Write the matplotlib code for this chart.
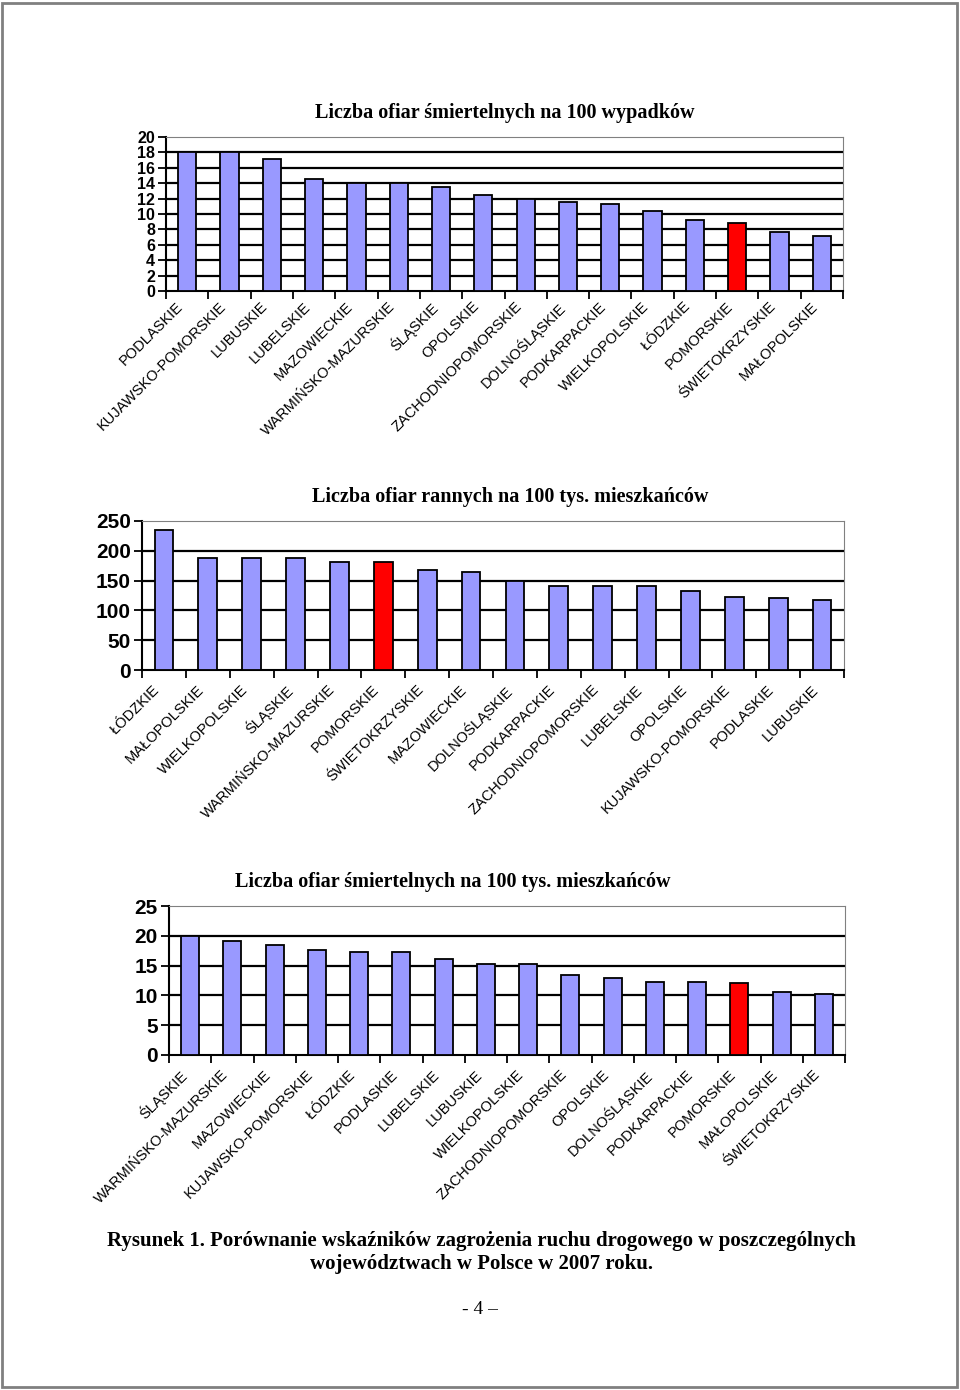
import matplotlib
matplotlib.use("Agg")
from matplotlib import pyplot as plt
from matplotlib.patches import Rectangle

# dane (2007)
woj_wypadki = ["PODLASKIE", "KUJAWSKO-POMORSKIE", "LUBUSKIE", "LUBELSKIE", "MAZOWIECKIE",
               "WARMIŃSKO-MAZURSKIE", "ŚLĄSKIE", "OPOLSKIE", "ZACHODNIOPOMORSKIE", "DOLNOŚLĄSKIE",
               "PODKARPACKIE", "WIELKOPOLSKIE", "ŁÓDZKIE", "POMORSKIE", "ŚWIETOKRZYSKIE", "MAŁOPOLSKIE"]
smiert_100_wyp = [18.0, 18.0, 17.2, 14.6, 14.0, 14.0, 13.5, 12.5, 11.9, 11.6, 11.3, 10.4, 9.2, 8.8, 7.6, 7.1]

woj_ranni = ["ŁÓDZKIE", "MAŁOPOLSKIE", "WIELKOPOLSKIE", "ŚLĄSKIE", "WARMIŃSKO-MAZURSKIE", "POMORSKIE",
             "ŚWIETOKRZYSKIE", "MAZOWIECKIE", "DOLNOŚLĄSKIE", "PODKARPACKIE", "ZACHODNIOPOMORSKIE",
             "LUBELSKIE", "OPOLSKIE", "KUJAWSKO-POMORSKIE", "PODLASKIE", "LUBUSKIE"]
ranni_100_tys = [235, 188, 188, 188, 182, 182, 167, 164, 150, 141, 141, 141, 132, 123, 120, 117]

woj_smiert = ["ŚLĄSKIE", "WARMIŃSKO-MAZURSKIE", "MAZOWIECKIE", "KUJAWSKO-POMORSKIE", "ŁÓDZKIE",
              "PODLASKIE", "LUBELSKIE", "LUBUSKIE", "WIELKOPOLSKIE", "ZACHODNIOPOMORSKIE", "OPOLSKIE",
              "DOLNOŚLĄSKIE", "PODKARPACKIE", "POMORSKIE", "MAŁOPOLSKIE", "ŚWIETOKRZYSKIE"]
smiert_100_tys = [20.0, 19.1, 18.5, 17.6, 17.3, 17.3, 16.1, 15.2, 15.2, 13.5, 12.9, 12.3, 12.3, 12.0, 10.6, 10.3]

wyroznione = "POMORSKIE"

W, H = 960, 1390
fig = plt.figure(figsize=(W / 100, H / 100), dpi=100)

# ramka strony
fig.patches.append(Rectangle((2 / W, 3 / H), 955 / W, 1384 / H, transform=fig.transFigure,
                             fill=False, edgecolor="#808080", linewidth=2))

serif = ["Liberation Serif", "DejaVu Serif"]
sans = ["Liberation Sans", "DejaVu Sans"]


# funkcja rysujaca jeden wykres slupkowy
def wykres(left, top, right, bottom, kategorie, wartosci, ymax, krok, tytul, tx, ty,
           dy=-9, ysize=15):
    ax = fig.add_axes([left / W, 1 - bottom / H, (right - left) / W, (bottom - top) / H])
    kolory = ["#FF0000" if k == wyroznione else "#9999FF" for k in kategorie]
    x = list(range(len(kategorie)))
    ax.bar(x, wartosci, width=0.43, color=kolory, edgecolor="black", linewidth=1.3, zorder=3)
    ax.set_xlim(-0.5, len(kategorie) - 0.5)
    ax.set_ylim(0, ymax)
    ax.set_yticks(list(range(0, ymax + 1, krok)))
    for y in range(krok, ymax, krok):
        ax.axhline(y, color="black", linewidth=1.6, zorder=1)
    ax.spines["top"].set_color("#808080")
    ax.spines["right"].set_color("#808080")
    ax.spines["left"].set_linewidth(1.5)
    ax.spines["bottom"].set_linewidth(1.5)
    ax.set_xticks([i - 0.5 for i in range(len(kategorie) + 1)])
    ax.set_xticklabels([])
    ax.tick_params(axis="x", length=6, width=1.3, direction="out")
    ax.tick_params(axis="y", length=6, width=1.3, direction="out", pad=2)
    for lab in ax.get_yticklabels():
        lab.set_family(sans)
        lab.set_fontsize(ysize)
        lab.set_fontweight("bold")
    for i, k in enumerate(kategorie):
        ax.annotate(k, xy=(i, 0), xycoords=("data", "axes fraction"), xytext=(-8, dy),
                    textcoords="offset points", rotation=45, ha="right", va="top",
                    rotation_mode="anchor", fontsize=10.5, family=sans)
    fig.text(tx / W, 1 - ty / H, tytul, ha="center", va="center", fontsize=14.5,
             fontweight="bold", family=serif)
    return ax


wykres(166, 137, 843, 291, woj_wypadki, smiert_100_wyp, 20, 2,
       "Liczba ofiar śmiertelnych na 100 wypadków", 505, 113, dy=-6, ysize=11.5)
wykres(142, 521, 844, 670, woj_ranni, ranni_100_tys, 250, 50,
       "Liczba ofiar rannych na 100 tys. mieszkańców", 510, 497)
wykres(169, 906, 845, 1055, woj_smiert, smiert_100_tys, 25, 5,
       "Liczba ofiar śmiertelnych na 100 tys. mieszkańców", 453, 882)

fig.text(481 / W, 1 - 1241 / H,
         "Rysunek 1. Porównanie wskaźników zagrożenia ruchu drogowego w poszczególnych",
         ha="center", va="center", fontsize=15, fontweight="bold", family=serif)
fig.text(481 / W, 1 - 1264 / H, "województwach w Polsce w 2007 roku.",
         ha="center", va="center", fontsize=15, fontweight="bold", family=serif)
fig.text(480 / W, 1 - 1310 / H, "- 4 –", ha="center", va="center", fontsize=14, family=serif)

fig.savefig("out.png", dpi=100)
